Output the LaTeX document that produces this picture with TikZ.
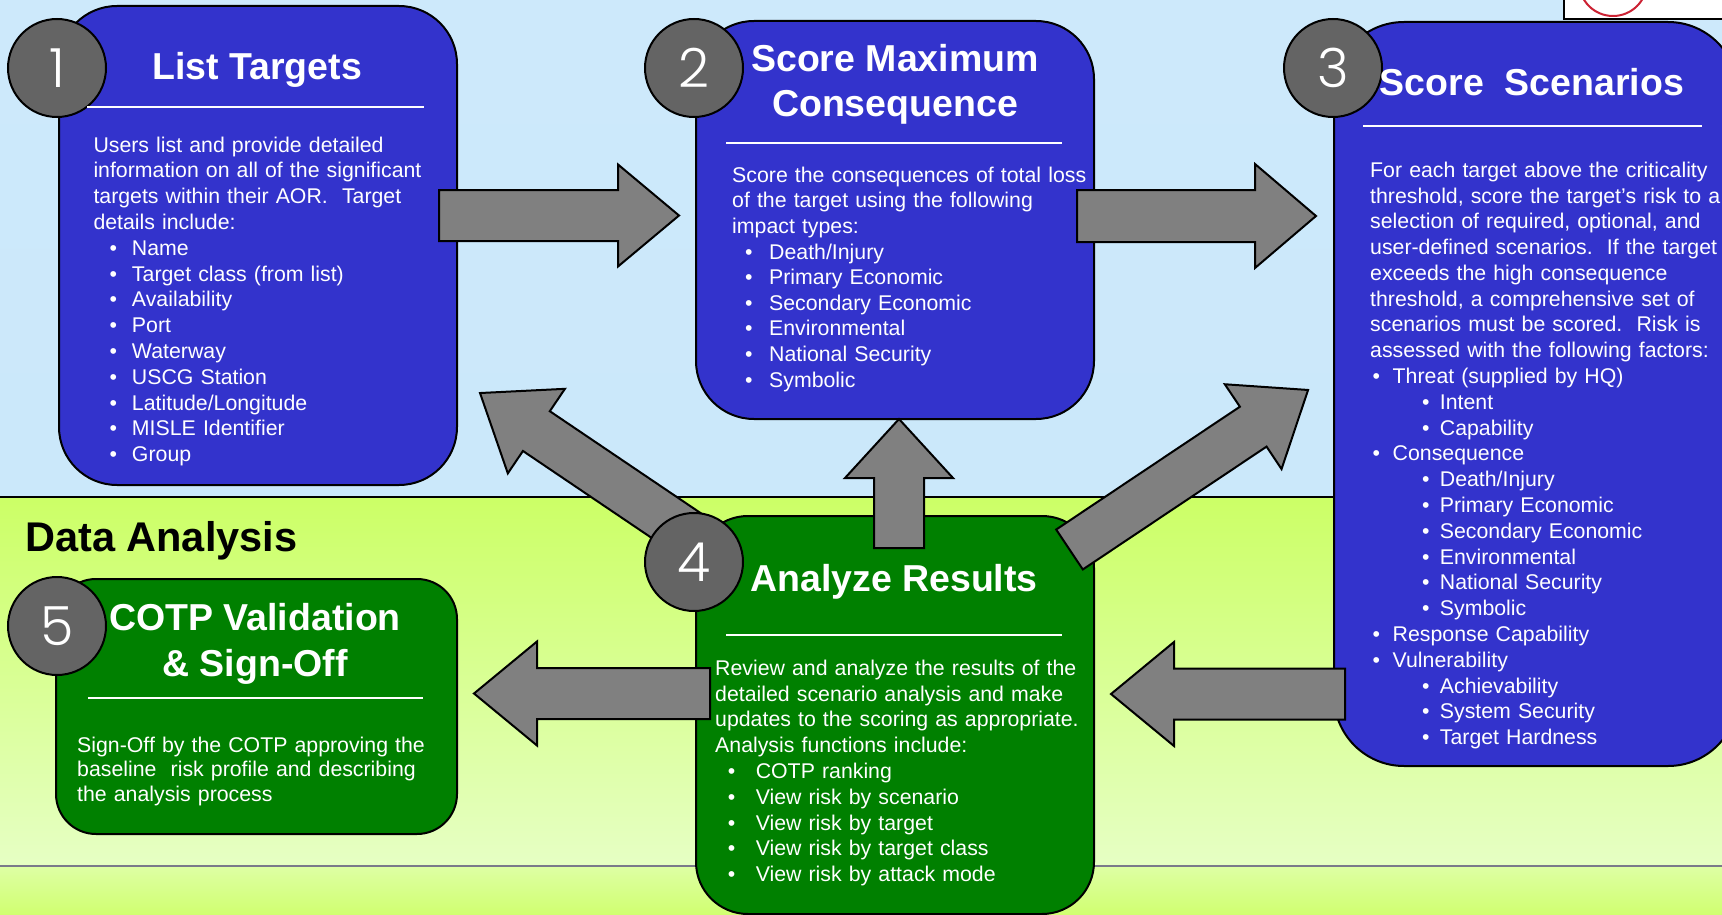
\documentclass[tikz,border=0pt]{standalone}
\usepackage{fontspec}
\setmainfont{Liberation Sans}
\newfontfamily\numfont{Poppins Light}
\definecolor{boxblue}{HTML}{3333CC}
\definecolor{boxgreen}{HTML}{008000}
\definecolor{arrgray}{HTML}{808080}
\definecolor{circgray}{HTML}{646464}
\definecolor{skytop}{HTML}{CDE9FB}
\definecolor{skymid}{HTML}{F6FBFF}
\definecolor{skybot}{HTML}{CBE8FA}
\definecolor{grtop}{HTML}{CCFF66}
\definecolor{grmid}{HTML}{F2FFE4}
\definecolor{grbot}{HTML}{E6FFC4}
\definecolor{strtop}{HTML}{DEFFA4}
\definecolor{strbot}{HTML}{D0FF70}
\definecolor{logored}{HTML}{CC2233}
\definecolor{rulegray}{HTML}{7A7A8A}
\tikzset{
  procbox/.style={draw=black, line width=2pt, rectangle, inner sep=0pt, anchor=north west},
  numc/.style={circle, draw=black, line width=2pt, fill=circgray, minimum size=98pt, inner sep=0pt, text=white, font=\numfont\fontsize{54}{54}\selectfont},
  ttl/.style={text=white, font=\bfseries\fontsize{37.5}{37.5}\selectfont, anchor=base, inner sep=0pt},
  body/.style={text=white, font=\fontsize{21.3}{25.8}\selectfont, anchor=north west, inner sep=0pt, align=left, text width=#1},
  sepline/.style={draw=white, line width=2pt},
  arrowsty/.style={draw=black, line width=2pt, fill=arrgray, line join=miter},
}
\newcommand\bitem[3]{\hspace*{#1pt}\makebox[#2pt][l]{\textbullet}#3}
\newcommand\fst{\rule{0pt}{16pt}}
\newcommand\blockarr[6]{\draw[arrowsty, shift={(#1)}, rotate=#2] (0,-#5) -- ({#3-#4},-#5) -- ({#3-#4},-#6) -- (#3,0) -- ({#3-#4},#6) -- ({#3-#4},#5) -- (0,#5) -- cycle;}
\begin{document}
\begin{tikzpicture}[x=1pt,y=-1pt]
\useasboundingbox (0,0) rectangle (1722,915);
\clip (0,0) rectangle (1722,915);
% backgrounds
\shade[top color=skytop, middle color=skymid, bottom color=skybot] (0,0) rectangle (1722,497);
\shade[top color=grtop, middle color=grmid, bottom color=grbot] (0,497) rectangle (1722,866);
\shade[top color=strtop, bottom color=strbot] (0,866) rectangle (1722,915);
\draw[black, line width=2pt] (0,497) -- (1722,497);
\draw[rulegray, line width=1.5pt] (0,866) -- (1722,866);
% logo corner
\draw[fill=white, draw=black, line width=1.5pt] (1564,-10) rectangle (1730,19);
\draw[logored, line width=2pt] (1613,-18) circle[radius=34];
% boxes
\node[procbox, fill=boxblue, rounded corners=58pt, minimum width=398pt, minimum height=479pt] (b1) at (58,5) {};
\node[procbox, fill=boxblue, rounded corners=58pt, minimum width=398pt, minimum height=398pt] (b2) at (695,20) {};
\node[procbox, fill=boxblue, rounded corners=70pt, minimum width=404pt, minimum height=744pt] (b3) at (1333,21) {};
\node[procbox, fill=boxgreen, rounded corners=52pt, minimum width=398pt, minimum height=398pt] (b4) at (695,515) {};
\node[procbox, fill=boxgreen, rounded corners=40pt, minimum width=401pt, minimum height=255pt] (b5) at (55,578) {};
% arrows
\coordinate (a12) at (439,215.5);
\coordinate (a23) at (1077,216);
\coordinate (a34) at (1345,694);
\coordinate (a45) at (710,693.5);
\coordinate (a42) at (899,548);
\coordinate (a43) at (1069.5,549.5);
\coordinate (a41) at (705,545);
\blockarr{a12}{0}{240}{61}{25.5}{51}
\blockarr{a23}{0}{239}{61}{26}{52}
\blockarr{a34}{180}{234}{63}{25.5}{52}
\blockarr{a45}{180}{236}{63}{25.5}{52}
\blockarr{a42}{90}{129}{59}{25}{54}
\blockarr{a43}{33.77}{287}{66}{24}{51}
\blockarr{a41}{145.96}{271.5}{68}{24}{51}
% number circles
\node[numc] (c1) at (57,68) {1};
\node[numc] (c2) at (694,68) {2};
\node[numc] (c3) at (1333,68) {3};
\node[numc] (c4) at (694,562) {4};
\node[numc] (c5) at (57,626) {5};
% titles
\node[ttl] (t1) at (257,80) {List Targets};
\node[ttl] (t2a) at (895,72) {Score Maximum};
\node[ttl] (t2b) at (895,117) {Consequence};
\node[ttl] (t3) at (1532,96) {Score\ \ Scenarios};
\node[ttl] (t4) at (894,591) {Analyze Results};
\node[ttl] (t5a) at (255,630) {COTP Validation};
\node[ttl] (t5b) at (255,676) {\& Sign-Off};
% separators
\draw[sepline] (87,107) -- (424,107);
\draw[sepline] (726,143) -- (1062,143);
\draw[sepline] (1363,126) -- (1702,126);
\draw[sepline] (726,635) -- (1062,635);
\draw[sepline] (88,698) -- (423,698);
% section label
\node[anchor=base west, inner sep=0pt, font=\bfseries\fontsize{41.5}{41.5}\selectfont] (da) at (25,551) {Data Analysis};
% body texts
\node[body=400pt] (x1) at (93.3,136) {\fst Users list and provide detailed\\
information on all of the significant\\
targets within their AOR.\ \ Target\\
details include:\\
\bitem{16}{22.5}{Name}\\
\bitem{16}{22.5}{Target class (from list)}\\
\bitem{16}{22.5}{Availability}\\
\bitem{16}{22.5}{Port}\\
\bitem{16}{22.5}{Waterway}\\
\bitem{16}{22.5}{USCG Station}\\
\bitem{16}{22.5}{Latitude/Longitude}\\
\bitem{16}{22.5}{MISLE Identifier}\\
\bitem{16}{22.5}{Group}};
\node[body=400pt, font=\fontsize{21.3}{25.6}\selectfont] (x2) at (732,166) {\fst Score the consequences of total loss\\
of the target using the following\\
impact types:\\
\bitem{13}{24}{Death/Injury}\\
\bitem{13}{24}{Primary Economic}\\
\bitem{13}{24}{Secondary Economic}\\
\bitem{13}{24}{Environmental}\\
\bitem{13}{24}{National Security}\\
\bitem{13}{24}{Symbolic}};
\node[body=400pt] (x3) at (1370,161) {\fst For each target above the criticality\\
threshold, score the target’s risk to a\\
selection of required, optional, and\\
user-defined scenarios.\ \ If the target\\
exceeds the high consequence\\
threshold, a comprehensive set of\\
scenarios must be scored.\ \ Risk is\\
assessed with the following factors:\\
\bitem{2.3}{20.2}{Threat (supplied by HQ)}\\
\bitem{51.8}{17.9}{Intent}\\
\bitem{51.8}{17.9}{Capability}\\
\bitem{2.3}{20.2}{Consequence}\\
\bitem{51.8}{17.9}{Death/Injury}\\
\bitem{51.8}{17.9}{Primary Economic}\\
\bitem{51.8}{17.9}{Secondary Economic}\\
\bitem{51.8}{17.9}{Environmental}\\
\bitem{51.8}{17.9}{National Security}\\
\bitem{51.8}{17.9}{Symbolic}\\
\bitem{2.3}{20.2}{Response Capability}\\
\bitem{2.3}{20.2}{Vulnerability}\\
\bitem{51.8}{17.9}{Achievability}\\
\bitem{51.8}{17.9}{System Security}\\
\bitem{51.8}{17.9}{Target Hardness}};
\node[body=400pt] (x4) at (715,659) {\fst Review and analyze the results of the\\
detailed scenario analysis and make\\
updates to the scoring as appropriate.\\
Analysis functions include:\\
\bitem{12.7}{27.9}{COTP ranking}\\
\bitem{12.7}{27.9}{View risk by scenario}\\
\bitem{12.7}{27.9}{View risk by target}\\
\bitem{12.7}{27.9}{View risk by target class}\\
\bitem{12.7}{27.9}{View risk by attack mode}};
\node[body=400pt, font=\fontsize{21.3}{24.5}\selectfont] (x5) at (77,736) {\fst Sign-Off by the COTP approving the\\
baseline\ \ risk profile and describing\\
the analysis process};
\end{tikzpicture}
\end{document}
